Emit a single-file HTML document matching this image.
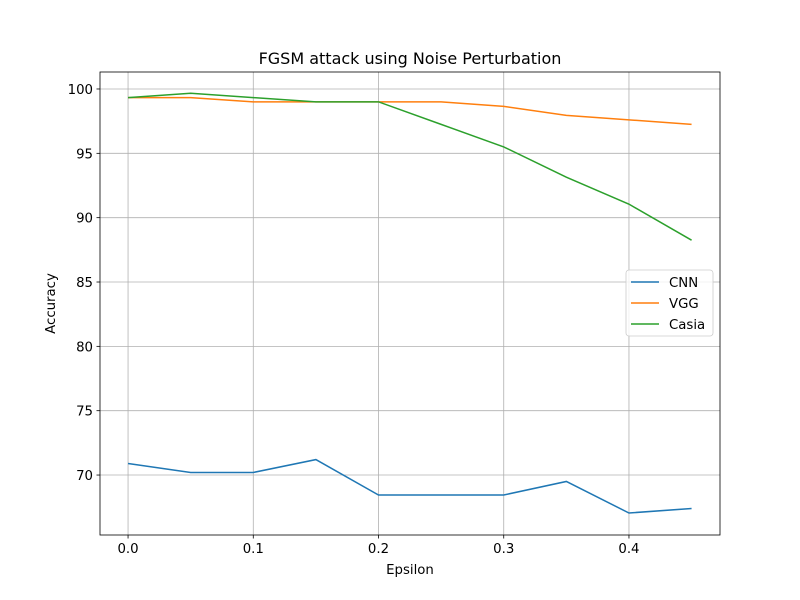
<!DOCTYPE html>
<html><head><meta charset="utf-8"><style>body{margin:0;background:#fff}svg{display:block;font-family:"DejaVu Sans","Liberation Sans",sans-serif}</style></head>
<body>
<svg id="chart" width="800" height="600"></svg>
<script>
const epsilons=[0,0.05,0.1,0.15,0.2,0.25,0.3,0.35,0.4,0.45];
const cnnValues=[70.9,70.2,70.2,71.2,68.45,68.45,68.45,69.5,67.05,67.4];
const vggValues=[99.33,99.33,99.0,99.0,99.0,99.0,98.65,97.95,97.6,97.25];
const casiaValues=[99.33,99.67,99.33,99.0,99.0,97.25,95.5,93.15,91.05,88.25];
const xTicks=[0,0.1,0.2,0.3,0.4];
const xTickLabels=["0.0","0.1","0.2","0.3","0.4"];
const yTicks=[70,75,80,85,90,95,100];
const seriesNames=["CNN","VGG","Casia"];
const NS="http://www.w3.org/2000/svg";
const svg=document.getElementById('chart');
const L=100,R=720,T=72,B=535,xmin=-0.0224,xmax=0.4727,ymin=65.34,ymax=101.32;
const sx=v=>L+(v-xmin)/(xmax-xmin)*(R-L);
const sy=v=>B-(v-ymin)/(ymax-ymin)*(B-T);
function mk(tag,attrs,parent){const e=document.createElementNS(NS,tag);for(const k in attrs)e.setAttribute(k,attrs[k]);(parent||svg).appendChild(e);return e;}
const grid=mk('g',{});


xTicks.forEach((t,i)=>{const x=sx(t);
mk('line',{x1:x,x2:x,y1:T,y2:B,stroke:'#b0b0b0','stroke-width':0.8},grid);
mk('line',{x1:x,x2:x,y1:B,y2:B+3.5,stroke:'#000','stroke-width':0.8});
const tx=mk('text',{x:x,y:B+18,'font-size':13.3,'text-anchor':'middle'});tx.textContent=xTickLabels[i];

});
yTicks.forEach(t=>{const y=sy(t);
mk('line',{x1:L,x2:R,y1:y,y2:y,stroke:'#b0b0b0','stroke-width':0.8},grid);
mk('line',{x1:L-3.5,x2:L,y1:y,y2:y,stroke:'#000','stroke-width':0.8});
const tx=mk('text',{x:L-7,y:y+5,'font-size':13.3,'text-anchor':'end'});tx.textContent=t;

});
const colors=['#1f77b4','#ff7f0e','#2ca02c'];
[cnnValues,vggValues,casiaValues].forEach((vals,si)=>{
const p=mk('polyline',{points:vals.map((v,i)=>sx(epsilons[i])+','+sy(v)).join(' '),fill:'none',stroke:colors[si],'stroke-width':1.5});

});
const frame=mk('rect',{x:L,y:T,width:R-L,height:B-T,fill:'none',stroke:'#000','stroke-width':0.8});


const title=mk('text',{x:(L+R)/2,y:64,'font-size':16,'text-anchor':'middle'});title.textContent='FGSM attack using Noise Perturbation';


const xl=mk('text',{x:(L+R)/2,y:574,'font-size':13.3,'text-anchor':'middle'});xl.textContent='Epsilon';


const yl=mk('text',{x:0,y:0,'font-size':13.3,'text-anchor':'middle',transform:'translate(55,'+((T+B)/2)+') rotate(-90)'});yl.textContent='Accuracy';


const lg=mk('g',{});


mk('rect',{x:626,y:270,width:87,height:66,rx:3,fill:'#fff',stroke:'#ccc','stroke-width':0.8,'fill-opacity':0.8},lg);
seriesNames.forEach((n,i)=>{const y=282+i*21;
mk('line',{x1:631,x2:659,y1:y,y2:y,stroke:colors[i],'stroke-width':1.5},lg);
const t=mk('text',{x:669,y:y+5,'font-size':13.3},lg);t.textContent=n;

});
</script>
</body></html>
